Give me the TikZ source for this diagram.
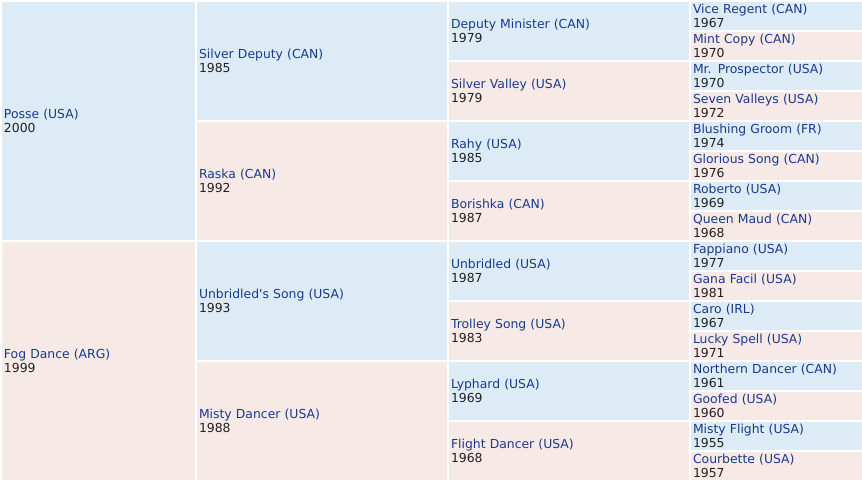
\documentclass[tikz,border=0pt]{standalone}
\usepackage{fontspec}
\newfontfamily\vfont{DejaVu Sans}
\definecolor{sireblue}{RGB}{220,235,245}
\definecolor{dampink}{RGB}{247,233,229}
\definecolor{namecol}{RGB}{26,58,140}
\definecolor{yearcol}{RGB}{34,34,34}
\newcommand\pcell[8]{%
  \node[cellbox, fill=#6, minimum width=#4pt, minimum height=#5pt, text width=#4pt-4pt] (#1) at (#2,#3)
    {\textcolor{namecol}{#7}\\\textcolor{yearcol}{#8}};}
\begin{document}
\begin{tikzpicture}[x=1pt,y=-1pt,
  cellbox/.style={anchor=north west, draw=none, inner xsep=2pt, inner ysep=0pt, outer sep=0pt,
    align=left, font=\vfont\fontsize{12.4}{14}\selectfont}]
\useasboundingbox (0,0) rectangle (862,484);
% generation 1
\pcell{g1a}{2}{2}{193}{238}{sireblue}{Posse (USA)}{2000}
\pcell{g1b}{2}{242}{193}{238}{dampink}{Fog Dance (ARG)}{1999}
% generation 2
\pcell{g2a}{197}{2}{250}{118}{sireblue}{Silver Deputy (CAN)}{1985}
\pcell{g2b}{197}{122}{250}{118}{dampink}{Raska (CAN)}{1992}
\pcell{g2c}{197}{242}{250}{118}{sireblue}{Unbridled's Song (USA)}{1993}
\pcell{g2d}{197}{362}{250}{118}{dampink}{Misty Dancer (USA)}{1988}
% generation 3
\pcell{g3a}{449}{2}{240}{58}{sireblue}{Deputy Minister (CAN)}{1979}
\pcell{g3b}{449}{62}{240}{58}{dampink}{Silver Valley (USA)}{1979}
\pcell{g3c}{449}{122}{240}{58}{sireblue}{Rahy (USA)}{1985}
\pcell{g3d}{449}{182}{240}{58}{dampink}{Borishka (CAN)}{1987}
\pcell{g3e}{449}{242}{240}{58}{sireblue}{Unbridled (USA)}{1987}
\pcell{g3f}{449}{302}{240}{58}{dampink}{Trolley Song (USA)}{1983}
\pcell{g3g}{449}{362}{240}{58}{sireblue}{Lyphard (USA)}{1969}
\pcell{g3h}{449}{422}{240}{58}{dampink}{Flight Dancer (USA)}{1968}
% generation 4
\pcell{g4a}{691}{2}{171}{28}{sireblue}{Vice Regent (CAN)}{1967}
\pcell{g4b}{691}{32}{171}{28}{dampink}{Mint Copy (CAN)}{1970}
\pcell{g4c}{691}{62}{171}{28}{sireblue}{Mr. Prospector (USA)}{1970}
\pcell{g4d}{691}{92}{171}{28}{dampink}{Seven Valleys (USA)}{1972}
\pcell{g4e}{691}{122}{171}{28}{sireblue}{Blushing Groom (FR)}{1974}
\pcell{g4f}{691}{152}{171}{28}{dampink}{Glorious Song (CAN)}{1976}
\pcell{g4g}{691}{182}{171}{28}{sireblue}{Roberto (USA)}{1969}
\pcell{g4h}{691}{212}{171}{28}{dampink}{Queen Maud (CAN)}{1968}
\pcell{g4i}{691}{242}{171}{28}{sireblue}{Fappiano (USA)}{1977}
\pcell{g4j}{691}{272}{171}{28}{dampink}{Gana Facil (USA)}{1981}
\pcell{g4k}{691}{302}{171}{28}{sireblue}{Caro (IRL)}{1967}
\pcell{g4l}{691}{332}{171}{28}{dampink}{Lucky Spell (USA)}{1971}
\pcell{g4m}{691}{362}{171}{28}{sireblue}{Northern Dancer (CAN)}{1961}
\pcell{g4n}{691}{392}{171}{28}{dampink}{Goofed (USA)}{1960}
\pcell{g4o}{691}{422}{171}{28}{sireblue}{Misty Flight (USA)}{1955}
\pcell{g4p}{691}{452}{171}{28}{dampink}{Courbette (USA)}{1957}
\end{tikzpicture}
\end{document}
